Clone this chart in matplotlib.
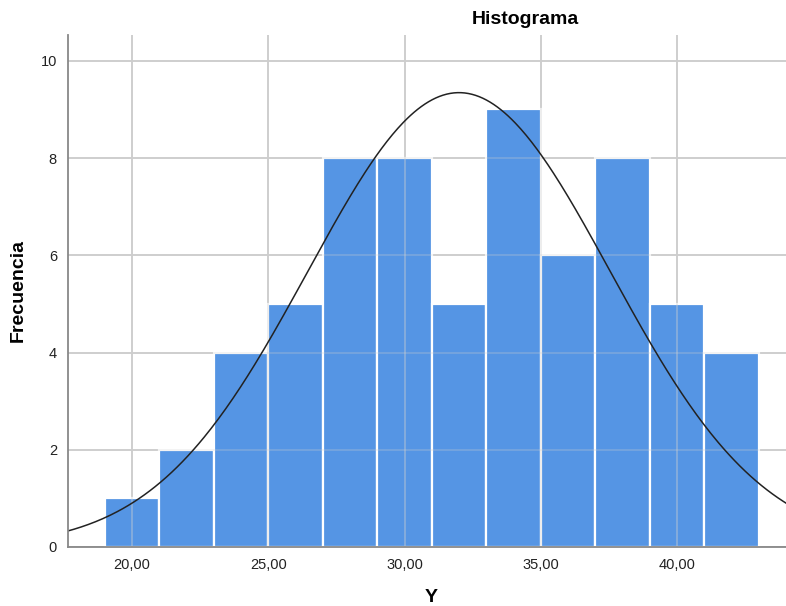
import numpy as np
import matplotlib
matplotlib.use("Agg")
import matplotlib.pyplot as plt

plt.rcParams["font.family"] = ["Liberation Sans", "DejaVu Sans"]

bin_edges = [19, 21, 23, 25, 27, 29, 31, 33, 35, 37, 39, 41, 43]
counts = [1, 2, 4, 5, 8, 8, 5, 9, 6, 8, 5, 4]
mean_y = 32.0
sd_y = 5.55
n_obs = 65
xticks = [20, 25, 30, 35, 40]
xticklabels = ["20,00", "25,00", "30,00", "35,00", "40,00"]
yticks = [0, 2, 4, 6, 8, 10]

fig = plt.figure(figsize=(7.86, 6.06), dpi=100)
ax = fig.add_axes([68/786, 59/606, 1 - 68/786, (547-35)/606])

lefts = bin_edges[:-1]
widths = np.diff(bin_edges)
ax.bar(lefts, counts, width=widths, align="edge", color="#5595E4",
       edgecolor="white", linewidth=1.6, zorder=2)

xs = np.linspace(17.6, 44.1, 400)
bw = widths[0]
ys = n_obs * bw / (sd_y * np.sqrt(2 * np.pi)) * np.exp(-(xs - mean_y) ** 2 / (2 * sd_y ** 2))
ax.plot(xs, ys, color="#222222", linewidth=1.1, zorder=4)

ax.set_xlim(17.65, 44.0)
ax.set_ylim(0, 10.53)
ax.set_xticks(xticks)
ax.set_xticklabels(xticklabels)
ax.set_yticks(yticks)
ax.grid(True, color="#cacaca", linewidth=1.3, zorder=1)
ax.set_axisbelow(True)
for xv in xticks:
    ax.axvline(xv, color="#d0d0d0", linewidth=1.2, alpha=0.45, zorder=3)
for yv in yticks[1:]:
    ax.axhline(yv, color="#d0d0d0", linewidth=1.2, alpha=0.3, zorder=3)
for s in ["top", "right"]:
    ax.spines[s].set_visible(False)
for s in ["left", "bottom"]:
    ax.spines[s].set_color("#888888")
    ax.spines[s].set_linewidth(1.3)
    ax.spines[s].set_zorder(5)
ax.tick_params(length=0, labelsize=10.5, colors="#222222", pad=8)

fig.text(18/786, 1 - 291/606, "Frecuencia", rotation=90, ha="center", va="center",
         fontsize=14, fontweight="bold")
fig.text(431/786, 1 - 598/606, "Y", ha="center", va="center",
         fontsize=14, fontweight="bold")
fig.text(525/786, 1 - 19/606, "Histograma", ha="center", va="center",
         fontsize=14, fontweight="bold")

fig.savefig("out.png", dpi=100)
